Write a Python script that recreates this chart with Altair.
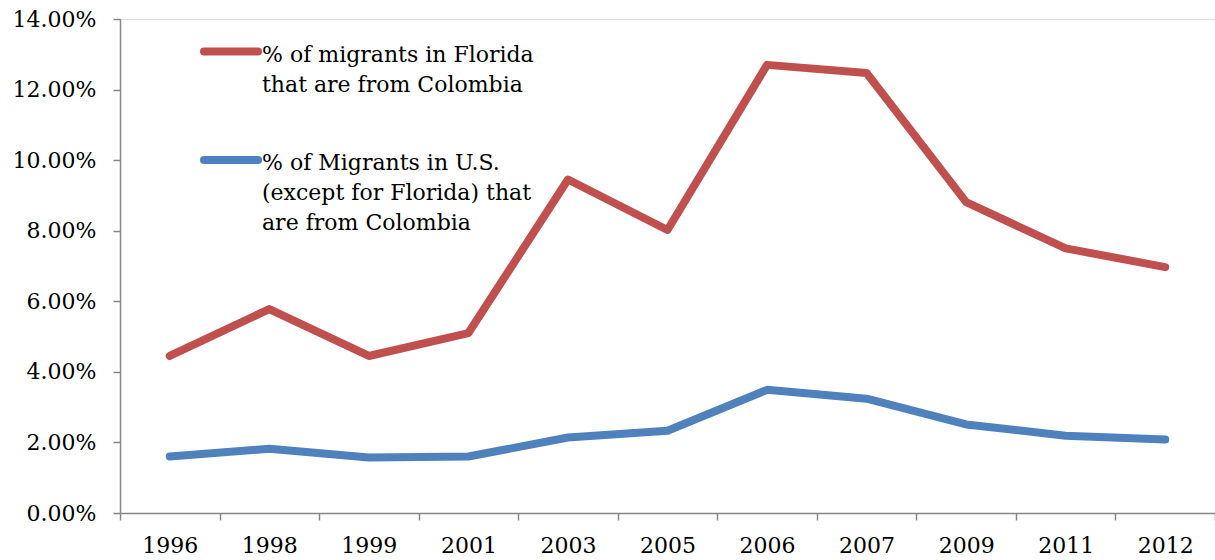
import altair as alt
import pandas as pd

years = ["1996", "1998", "1999", "2001", "2003", "2005", "2006", "2007", "2009", "2011", "2012"]
florida = [4.45, 5.78, 4.45, 5.10, 9.45, 8.02, 12.70, 12.47, 8.81, 7.50, 6.97]
us_except_florida = [1.60, 1.82, 1.57, 1.60, 2.14, 2.33, 3.49, 3.24, 2.51, 2.19, 2.08]
series_names = [
    "% of migrants in Florida\nthat are from Colombia",
    "% of Migrants in U.S.\n(except for Florida) that\nare from Colombia",
]
colors = ["#C0504D", "#4F81BD"]
y_ticks = [0, 2, 4, 6, 8, 10, 12, 14]

rows = []
for y, v in zip(years, florida):
    rows.append({"year": y, "value": v, "series": series_names[0]})
for y, v in zip(years, us_except_florida):
    rows.append({"year": y, "value": v, "series": series_names[1]})
df = pd.DataFrame(rows)

FONT = "DejaVu Serif"
color_scale = alt.Scale(domain=series_names, range=colors)

lines = alt.Chart(df).mark_line(strokeWidth=8, strokeCap="round", strokeJoin="round").encode(
    x=alt.X("year:O", sort=years,
            scale=alt.Scale(type="band", paddingInner=0, paddingOuter=0),
            axis=alt.Axis(title=None, labelAngle=0, tickBand="extent", tickSize=7,
                          labelPadding=15, labelFont=FONT, labelFontSize=22,
                          labelColor="black", domainColor="#868686", tickColor="#868686",
                          domainWidth=1.5, tickWidth=1.5)),
    y=alt.Y("value:Q", scale=alt.Scale(domain=[0, 14], nice=False),
            axis=alt.Axis(title=None, values=y_ticks, grid=False, tickSize=7,
                          labelExpr="format(datum.value, '.2f') + '%'",
                          labelPadding=17, labelFont=FONT, labelFontSize=22,
                          labelColor="black", domainColor="#868686", tickColor="#868686",
                          domainWidth=1.5, tickWidth=1.5)),
    color=alt.Color("series:N", scale=color_scale, legend=None),
    detail="series:N",
)

leg_df = pd.DataFrame({"series": series_names})

def legend_item(i, y_sym, y_text):
    d = leg_df.iloc[[i]]
    sym = alt.Chart(d).mark_rule(strokeWidth=8, strokeCap="round").encode(
        x=alt.value(84), x2=alt.value(138), y=alt.value(y_sym),
        color=alt.Color("series:N", scale=color_scale, legend=None),
    )
    txt = alt.Chart(d).mark_text(
        align="left", baseline="alphabetic", lineBreak="\n", lineHeight=30,
        font=FONT, fontSize=22, color="black",
    ).encode(x=alt.value(142), y=alt.value(y_text), text="series:N")
    return sym + txt

chart = alt.layer(
    lines,
    legend_item(0, 32.5, 43),
    legend_item(1, 141, 151),
).properties(
    width=1095, height=494,
    autosize=alt.AutoSizeParams(type="none"),
    padding={"left": 120, "top": 19, "right": 0, "bottom": 47},
).configure_view(stroke=None).configure(background="white")

chart.save("out.html", embed_options={"renderer": "svg", "actions": False})
